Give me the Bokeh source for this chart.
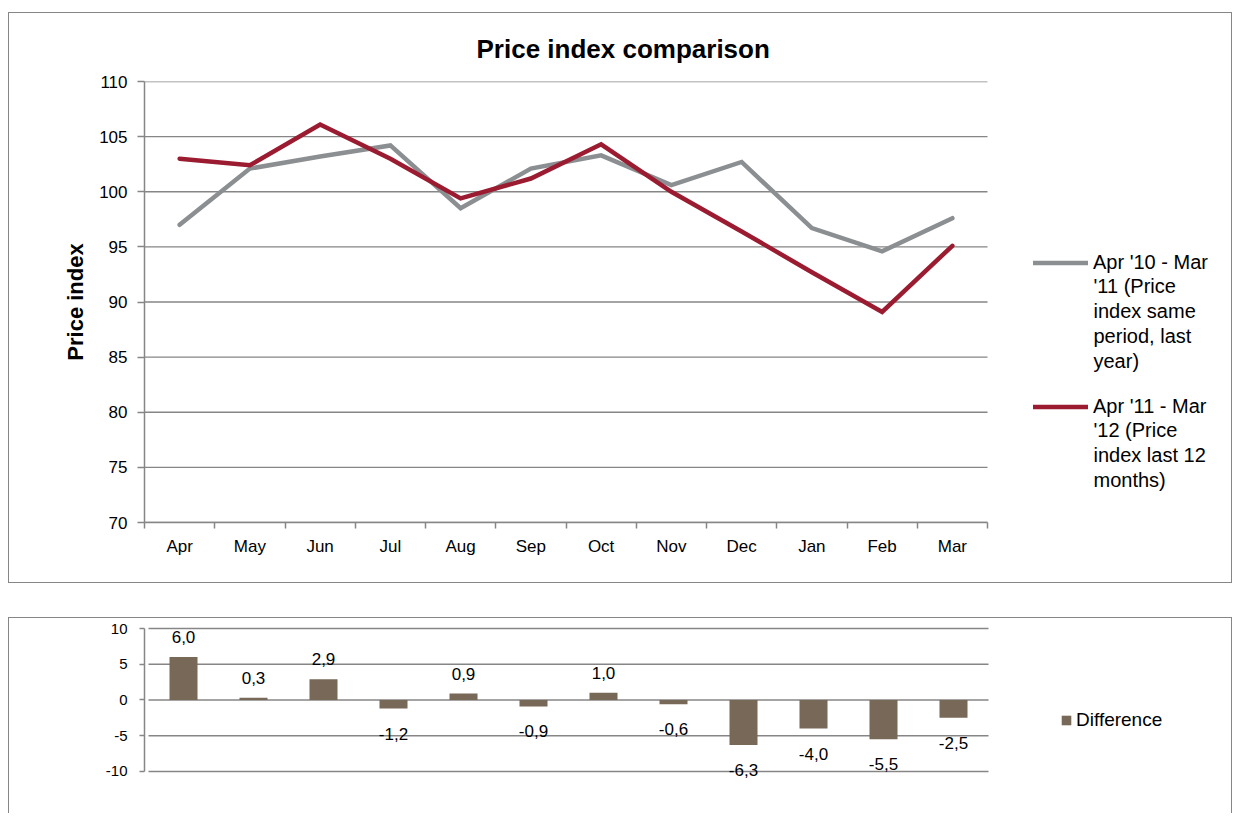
import numpy as np
from bokeh.plotting import figure
from bokeh.models import Legend, LegendItem, FixedTicker, LabelSet, Label, ColumnDataSource
from bokeh.core.properties import value
from bokeh.layouts import column
from bokeh.embed import file_html
from bokeh.resources import INLINE

# ---------------- data ----------------
months = ["Apr", "May", "Jun", "Jul", "Aug", "Sep", "Oct", "Nov", "Dec", "Jan", "Feb", "Mar"]
prev_year = [97.0, 102.1, 103.2, 104.2, 98.5, 102.1, 103.3, 100.6, 102.7, 96.7, 94.6, 97.6]
last_12 = [103.0, 102.4, 106.1, 103.0, 99.4, 101.2, 104.3, 100.0, 96.4, 92.7, 89.1, 95.1]
difference = [6.0, 0.3, 2.9, -1.2, 0.9, -0.9, 1.0, -0.6, -6.3, -4.0, -5.5, -2.5]
top_yticks = [70, 75, 80, 85, 90, 95, 100, 105, 110]
bottom_yticks = [-10, -5, 0, 5, 10]
label_prev_first = "Apr '10 - Mar"
label_prev_rest = "'11 (Price\nindex same\nperiod, last\nyear)"
label_last_first = "Apr '11 - Mar"
label_last_rest = "'12 (Price\nindex last 12\nmonths)"
label_diff = "Difference"
title_text = "Price index comparison"
ylabel_text = "Price index"

FONT = "Liberation Sans"
GRID = "#868686"
GRAY = "#8C8F91"
RED = "#9B1B30"
BROWN = "#786858"

n = len(months)
xc = np.arange(n) + 0.5

# ---------------- top chart ----------------
# frame: x 144..1230 px (categories occupy 144..987), y 81..522 px
TOP_CAT_PX = 843 / n
top_x_end = 1086 / TOP_CAT_PX
TOP_Y_PX = 441 / 40.0

p = figure(width=1224, height=571, x_range=(0, top_x_end), y_range=(70, 110),
           output_backend="svg", toolbar_location=None,
           min_border_left=136, min_border_right=2,
           min_border_top=69, min_border_bottom=61)
p.outline_line_color = None
p.border_fill_color = None
p.background_fill_color = None
p.xgrid.grid_line_color = None
p.ygrid.grid_line_color = None

p.title.text = title_text
p.title.align = "left"
p.title.text_font = FONT
p.title.text_font_size = "26px"
p.title.text_font_style = "bold"
p.title.text_color = "black"
p.title.offset = 332
p.title.standoff = 36

ya = p.yaxis[0]
ya.ticker = FixedTicker(ticks=top_yticks)
ya.axis_label = ylabel_text
ya.axis_label_text_font = FONT
ya.axis_label_text_font_size = "22px"
ya.axis_label_text_font_style = "bold"
ya.axis_label_text_color = "black"
ya.axis_label_standoff = 8
ya.major_label_text_font = FONT
ya.major_label_text_font_size = "17px"
ya.major_label_text_color = "black"
ya.major_label_standoff = 10
ya.major_tick_out = 7
ya.major_tick_in = 0
ya.minor_tick_line_color = None
ya.axis_line_color = GRID
ya.axis_line_width = 1.5
ya.major_tick_line_color = GRID
ya.major_tick_line_width = 1.5

xa = p.xaxis[0]
xa.bounds = (0, n)
xa.ticker = FixedTicker(ticks=list(xc), minor_ticks=list(range(n + 1)))
xa.major_label_overrides = {float(x): m for x, m in zip(xc, months)}
xa.major_label_text_font = FONT
xa.major_label_text_font_size = "17px"
xa.major_label_text_color = "black"
xa.major_label_standoff = 8
xa.major_tick_line_color = None
xa.major_tick_out = 0
xa.minor_tick_out = 6
xa.minor_tick_in = 0
xa.minor_tick_line_color = GRID
xa.minor_tick_line_width = 1.5
xa.axis_line_color = GRID
xa.axis_line_width = 1.5

# horizontal gridlines limited to the category area
p.segment(x0=0, x1=n, y0=top_yticks, y1=top_yticks, line_color=GRID, line_width=1.3)

r_prev = p.line(xc, prev_year, line_color=GRAY, line_width=4.5, line_join="miter", line_cap="round")
r_last = p.line(xc, last_12, line_color=RED, line_width=4.5, line_join="miter", line_cap="round")

leg = Legend(items=[LegendItem(label=label_prev_first, renderers=[r_prev]),
                    LegendItem(label=label_last_first, renderers=[r_last])],
             location=(889, 103), padding=0, margin=0, spacing=119,
             glyph_width=55, glyph_height=25, label_standoff=5,
             label_text_font=FONT, label_text_font_size="20px",
             label_text_line_height=1.25, label_text_color="black",
             border_line_color=None, background_fill_alpha=0)
p.add_layout(leg, "center")

# continuation lines of the legend entries
text_x = (1093 - 144) / TOP_CAT_PX
for rest, top_px in [(label_prev_rest, 274.5), (label_last_rest, 418.5)]:
    p.add_layout(Label(x=text_x, y=110 - (top_px - 81) / TOP_Y_PX, text=rest,
                       text_font=FONT, text_font_size="20px", text_line_height=1.14,
                       text_color="black", text_align="left", text_baseline="top"))

p.styles = {"outline": "1.5px solid #868686", "outline-offset": "-1.5px"}

# ---------------- bottom chart ----------------
# frame: x 144..1230 px (categories occupy 148..988), y 620..790 px
BOT_CAT_PX = 840 / n
bot_x_start = -4 / BOT_CAT_PX
bot_x_end = bot_x_start + 1086 / BOT_CAT_PX

q = figure(width=1224, height=199, x_range=(bot_x_start, bot_x_end), y_range=(-12.66, 11.12),
           output_backend="svg", toolbar_location=None,
           min_border_left=136, min_border_right=2,
           min_border_top=3, min_border_bottom=26)
q.outline_line_color = None
q.border_fill_color = None
q.background_fill_color = None
q.xgrid.grid_line_color = None
q.ygrid.grid_line_color = None
q.xaxis.visible = False

qa = q.yaxis[0]
qa.ticker = FixedTicker(ticks=bottom_yticks)
qa.bounds = (-10, 10)
qa.major_label_overrides = {t: str(t) for t in bottom_yticks}
qa.major_label_text_font = FONT
qa.major_label_text_font_size = "15px"
qa.major_label_text_color = "black"
qa.major_label_standoff = 12
qa.major_tick_out = 5
qa.major_tick_in = 0
qa.minor_tick_line_color = None
qa.axis_line_color = GRID
qa.axis_line_width = 1.5
qa.major_tick_line_color = GRID
qa.major_tick_line_width = 1.5

q.segment(x0=0, x1=n, y0=bottom_yticks, y1=bottom_yticks, line_color=GRID, line_width=1.3)

diff_text = [f"{v:.1f}".replace(".", ",") for v in difference]
offsets = [20 if v >= 0 else -25 for v in difference]
src = ColumnDataSource(dict(x=xc, top=difference, text=diff_text, yo=offsets))
r_bar = q.vbar(x="x", top="top", bottom=0, width=0.4, source=src,
               fill_color=BROWN, line_color=None)
labels = LabelSet(x="x", y="top", text="text", y_offset="yo", source=src,
                  text_align="center", text_baseline="middle",
                  text_font=value(FONT), text_font_size=value("17px"),
                  text_color="black")
q.add_layout(labels)

leg2 = Legend(items=[LegendItem(label=label_diff, renderers=[r_bar])],
              location=(916, 59), padding=0, margin=0,
              glyph_width=12, glyph_height=12, label_standoff=4,
              label_text_font=FONT, label_text_font_size="19px",
              label_text_color="black",
              border_line_color=None, background_fill_alpha=0)
q.add_layout(leg2, "center")
q.styles = {"outline": "1.5px solid #868686", "outline-offset": "-1.5px",
            "clip-path": "inset(0px 0px 3px 0px)"}

layout = column(p, q, spacing=34, margin=(12, 0, 0, 8))

with open("out.html", "w") as f:
    f.write(file_html(layout, INLINE))
